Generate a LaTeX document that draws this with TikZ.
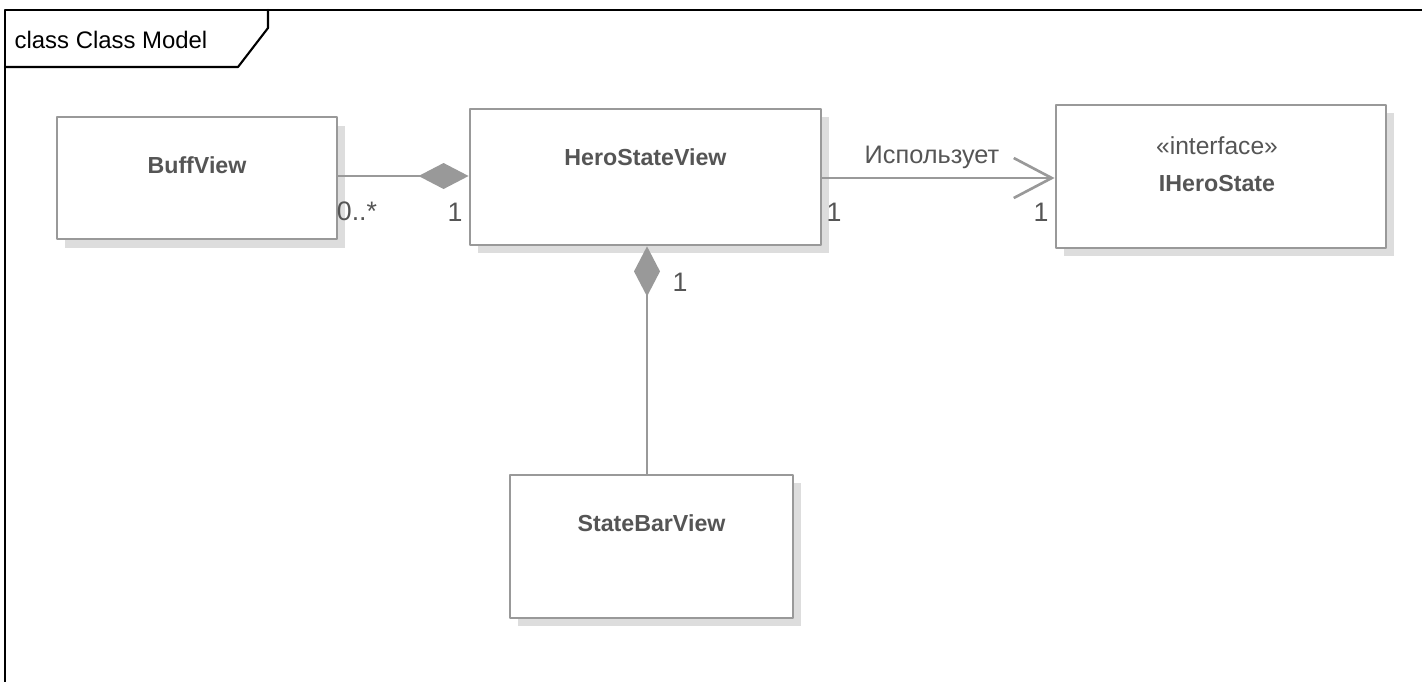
\documentclass[tikz,border=0pt]{standalone}
\usepackage{fontspec}
\setmainfont{Liberation Sans}
\usetikzlibrary{arrows.meta}
\definecolor{umlline}{HTML}{999999}
\definecolor{umltext}{HTML}{555555}
\definecolor{umlshadow}{HTML}{DDDDDD}
\tikzset{
  cls/.style={draw=umlline,line width=0.75pt,fill=white,inner sep=0pt},
  clsname/.style={text=umltext,font=\fontsize{6.6}{8}\selectfont\bfseries},
  stereo/.style={text=umltext,font=\fontsize{7}{8}\selectfont},
  mult/.style={text=umltext,font=\fontsize{7.6}{9}\selectfont,inner sep=1pt},
  conn/.style={draw=umlline,line width=0.75pt},
  comp/.style={conn,-{Diamond[length=0.5cm,width=0.26cm,fill=umlline]}},
  uses/.style={conn,-{Straight Barb[length=0.38cm,width=0.4cm,line width=0.75pt]}}
}
\begin{document}
\begin{tikzpicture}[x=0.01cm,y=-0.01cm,line cap=round,line join=round]
\useasboundingbox (0,0) rectangle (1422,681);
\clip (0,0) rectangle (1422,681);
% frame
\draw [line width=0.6pt] (5,690)-- (5,10)-- (1430,10);
\draw [line width=0.6pt] (5,67)-- (238,67)-- (268,28)-- (268,10);
\node [font=\fontsize{6.8}{8}\selectfont] (title) at (111,40) {class Class Model};
% shadows
\fill [umlshadow] (65,126) rectangle (345,248);
\fill [umlshadow] (478,117) rectangle (829,253);
\fill [umlshadow] (1064,113) rectangle (1394,256);
\fill [umlshadow] (518,483) rectangle (801,626);
% classes
\node [cls,minimum width=2.8cm,minimum height=1.22cm] (buff) at (197,178) {};
\node [cls,minimum width=3.51cm,minimum height=1.36cm] (hsv) at (645.5,177) {};
\node [cls,minimum width=3.3cm,minimum height=1.43cm] (ihs) at (1221,176.5) {};
\node [cls,minimum width=2.83cm,minimum height=1.43cm] (sbv) at (651.5,546.5) {};
\node [clsname] (bufftxt) at (197,165) {BuffView};
\node [clsname] (hsvtxt) at (645.5,157) {HeroStateView};
\node [stereo] (ihsst) at (1217,146) {«interface»};
\node [clsname] (ihstxt) at (1217,184) {IHeroState};
\node [clsname] (sbvtxt) at (651.5,523) {StateBarView};
% connectors
\draw [comp] (buff.east |- 0,176) -- (hsv.west |- 0,176);
\draw [comp] (sbv.north -| 647,0) -- (hsv.south -| 647,0);
\draw [uses] (hsv.east |- 0,178) -- (ihs.west |- 0,178);
% multiplicities
\node [mult] (m1) at (357,211) {0..*};
\node [mult] (m2) at (455,212) {1};
\node [mult] (m3) at (834,212) {1};
\node [mult] (m4) at (1041,212) {1};
\node [mult] (m5) at (680,282) {1};
\node [mult,font=\fontsize{7.2}{9}\selectfont] (usetxt) at (932,157) {Использует};
\end{tikzpicture}
\end{document}
